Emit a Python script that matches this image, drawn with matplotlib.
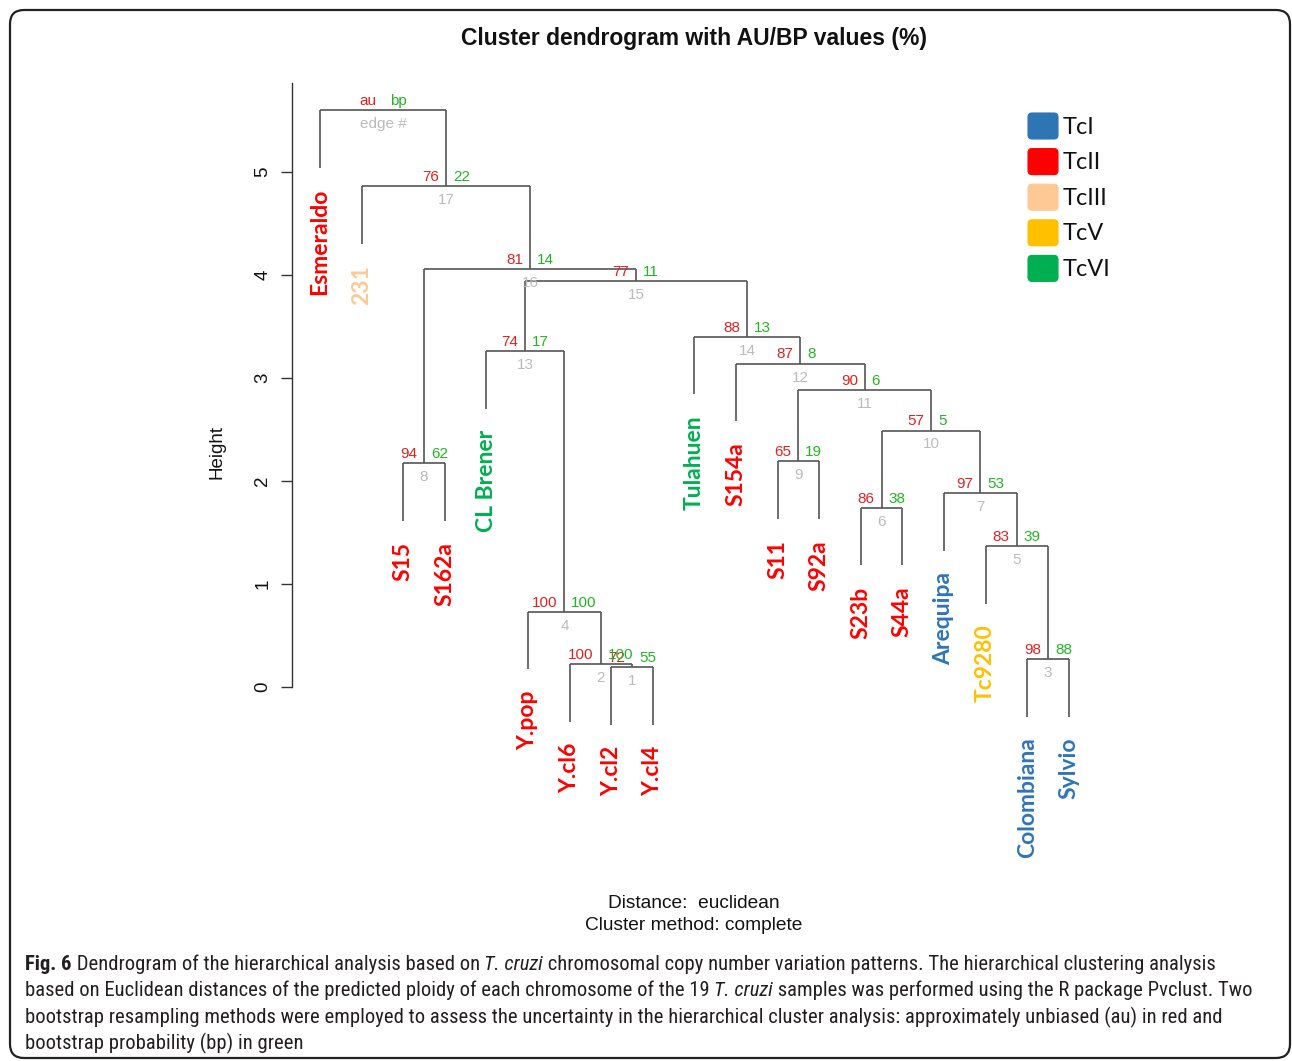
import matplotlib
matplotlib.use("Agg")
import matplotlib.pyplot as plt
from matplotlib.patches import FancyBboxPatch
from matplotlib import font_manager as fm

# ---------------- data ----------------
labels = ["Esmeraldo", "231", "S15", "S162a", "CL Brener", "Y.pop", "Y.cl6", "Y.cl2",
          "Y.cl4", "Tulahuen", "S154a", "S11", "S92a", "S23b", "S44a", "Arequipa",
          "Tc9280", "Colombiana", "Sylvio"]
label_groups = ["TcII", "TcIII", "TcII", "TcII", "TcVI", "TcII", "TcII", "TcII", "TcII",
                "TcVI", "TcII", "TcII", "TcII", "TcII", "TcII", "TcI", "TcV", "TcI", "TcI"]
# R-style merge matrix: negative = leaf number, positive = earlier merge (edge #)
merge_left = [-8, -7, -18, -6, -17, -14, -16, -3, -12, 6, 9, -11, -5, -10, 13, 8, -2, -1]
merge_right = [-9, 1, -19, 2, 3, -15, 5, -4, -13, 7, 10, 11, 4, 12, 14, 15, 16, 17]
heights = [0.19, 0.22, 0.27, 0.73, 1.37, 1.74, 1.88, 2.17, 2.19, 2.49, 2.88, 3.14,
           3.26, 3.40, 3.94, 4.06, 4.86, 5.60]
au = [72, 100, 98, 100, 83, 86, 97, 94, 65, 57, 90, 87, 74, 88, 77, 81, 76, None]
bp = [55, 100, 88, 100, 39, 38, 53, 62, 19, 5, 6, 8, 17, 13, 11, 14, 22, None]
groups = ["TcI", "TcII", "TcIII", "TcV", "TcVI"]
group_colors = ["#2E75B6", "#FF0000", "#FFC996", "#FFC000", "#00B050"]
yticks = [0, 1, 2, 3, 4, 5]

title = "Cluster dendrogram with AU/BP values (%)"
xlab1 = "Distance:  euclidean"
xlab2 = "Cluster method: complete"
caption = [
    [("Fig. 6", "bold"), (" Dendrogram of the hierarchical analysis based on ", "normal"),
     ("T. cruzi", "italic"), (" chromosomal copy number variation patterns. The hierarchical clustering analysis", "normal")],
    [("based on Euclidean distances of the predicted ploidy of each chromosome of the 19 ", "normal"),
     ("T. cruzi", "italic"), (" samples was performed using the R package Pvclust. Two", "normal")],
    [("bootstrap resampling methods were employed to assess the uncertainty in the hierarchical cluster analysis: approximately unbiased (au) in red and", "normal")],
    [("bootstrap probability (bp) in green", "normal")],
]

# ---------------- styles ----------------
AU_COL = "#DD2222"
BP_COL = "#22B522"
EDGE_COL = "#BBBBBB"
LINE_COL = "#555555"
RFONT = "Liberation Sans"
LEAF_FONT = "Lato"

W, H = 1292, 1061
fig = plt.figure(figsize=(W / 100, H / 100), dpi=100)
fig.patch.set_facecolor("white")

# main axes placed in pixel frame
L_px, R_px, B_px, T_px = 292, 1110, 700, 80
ax = fig.add_axes([L_px / W, 1 - B_px / H, (R_px - L_px) / W, (B_px - T_px) / H])
ax.set_facecolor("none")
px_per_x = 41.6
px_per_y = 103.0
ax.set_xlim(1 + (L_px - 320) / px_per_x, 1 + (R_px - 320) / px_per_x)
ax.set_ylim(-(B_px - 687) / px_per_y, (687 - T_px) / px_per_y)

# ---- build dendrogram geometry ----
n = len(labels)
leaf_x = {i + 1: float(i + 1) for i in range(n)}
node_x = {}
hang = 0.1 * max(heights)


def child_xy(c):
    if c < 0:
        return leaf_x[-c], None
    return node_x[c], heights[c - 1]


for k in range(len(heights)):
    h = heights[k]
    xs = []
    for c in (merge_left[k], merge_right[k]):
        cx, ch = child_xy(c)
        bottom = (h - hang) if ch is None else ch
        ax.plot([cx, cx], [bottom, h], color=LINE_COL, lw=1.2, solid_capstyle="butt",
                clip_on=False)
        xs.append(cx)
        if c < 0:
            idx = -c - 1
            col = group_colors[groups.index(label_groups[idx])]
            ax.annotate(labels[idx], xy=(cx, h - hang), xytext=(0, -15),
                        textcoords="offset points", rotation=90, ha="center", va="top",
                        color=col, fontsize=16.5, fontweight="bold", family=LEAF_FONT,
                        annotation_clip=False)
    ax.plot(xs, [h, h], color=LINE_COL, lw=1.2, solid_capstyle="butt", clip_on=False)
    node_x[k + 1] = sum(xs) / 2.0
    mx = node_x[k + 1]
    if au[k] is not None:
        ax.annotate(str(au[k]), xy=(mx, h), xytext=(-5, 1.5), textcoords="offset points",
                    ha="right", va="bottom", color=AU_COL, fontsize=11, family=RFONT)
        ax.annotate(str(bp[k]), xy=(mx, h), xytext=(5, 1.5), textcoords="offset points",
                    ha="left", va="bottom", color=BP_COL, fontsize=11, family=RFONT)
        ax.annotate(str(k + 1), xy=(mx, h), xytext=(0, -5), textcoords="offset points",
                    ha="center", va="top", color=EDGE_COL, fontsize=11, family=RFONT)
    else:
        ax.annotate("au", xy=(mx, h), xytext=(-5, 1.5), textcoords="offset points",
                    ha="right", va="bottom", color=AU_COL, fontsize=11, family=RFONT)
        ax.annotate("bp", xy=(mx, h), xytext=(5, 1.5), textcoords="offset points",
                    ha="left", va="bottom", color=BP_COL, fontsize=11, family=RFONT)
        ax.annotate("edge #", xy=(mx, h), xytext=(0, -5), textcoords="offset points",
                    ha="center", va="top", color=EDGE_COL, fontsize=11, family=RFONT)

# axes styling
for s in ["top", "right", "bottom"]:
    ax.spines[s].set_visible(False)
ax.spines["left"].set_bounds(0, 5.86)
ax.spines["left"].set_color("#333333")
ax.spines["left"].set_linewidth(1.0)
ax.set_xticks([])
ax.set_yticks(yticks)
ax.set_yticklabels([str(t) for t in yticks], rotation=90, va="center",
                   fontsize=13.5, family=RFONT, color="#111111")
ax.tick_params(axis="y", length=8, width=1.0, color="#333333", pad=7)

# ---------------- overlay (pixel coordinates) ----------------
ov = fig.add_axes([0, 0, 1, 1], zorder=-1)
ov.set_xlim(0, W)
ov.set_ylim(H, 0)
ov.axis("off")

frame = FancyBboxPatch((10, 10), 1280, 1048, boxstyle="round,pad=0,rounding_size=14",
                       fill=False, ec="#222222", lw=1.6)
ov.add_patch(frame)

ov.text(694, 38, title, ha="center", va="center", fontsize=16.5, fontweight="bold",
        family=RFONT, color="#111111")
ov.text(217, 452, "Height", ha="center", va="center", rotation=90, fontsize=13.5,
        family=RFONT, color="#111111")
ov.text(694, 903, xlab1, ha="center", va="center", fontsize=13.8, family=RFONT,
        color="#111111")
ov.text(694, 926, xlab2, ha="center", va="center", fontsize=13.8, family=RFONT,
        color="#111111")

# legend
leg_y0, leg_dy = 126, 35.6
for i, (g, c) in enumerate(zip(groups, group_colors)):
    yc = leg_y0 + i * leg_dy
    ov.add_patch(FancyBboxPatch((1028, yc - 13), 30, 26,
                                boxstyle="round,pad=0,rounding_size=4", fc=c, ec=c, lw=0.8))
    ov.text(1063, yc + 1, g, ha="left", va="center", fontsize=17, family=LEAF_FONT,
            color="#111111")

# caption with mixed styles
avail = {f.name for f in fm.fontManager.ttflist}
cap_font = None
cap_stretch = "normal"
for cand in ["Liberation Sans Narrow", "Roboto Condensed", "Open Sans Condensed"]:
    if cand in avail:
        cap_font = cand
        break
if cap_font is None:
    cap_font = "DejaVu Sans"
    cap_stretch = "condensed"

renderer = fig.canvas.get_renderer()


def text_width(s, size, style):
    kw = dict(fontsize=size, family=cap_font, fontstretch=cap_stretch)
    if style == "bold":
        kw["fontweight"] = "bold"
    if style == "italic":
        kw["fontstyle"] = "italic"
    t1 = ov.text(0, 0, "|" + s + "|", **kw)
    t2 = ov.text(0, 0, "||", **kw)
    w = t1.get_window_extent(renderer).width - t2.get_window_extent(renderer).width
    t1.remove()
    t2.remove()
    return w


base = 10.0
w_max = max(sum(text_width(s, base, st) for s, st in line) for line in caption)
cap_size = base * (1242 - 25) / w_max
cap_size = min(cap_size, 16)

y = 964
for line in caption:
    x = 25
    for s, st in line:
        kw = dict(fontsize=cap_size, family=cap_font, fontstretch=cap_stretch,
                  color="#231F20", ha="left", va="center")
        if st == "bold":
            kw["fontweight"] = "bold"
        if st == "italic":
            kw["fontstyle"] = "italic"
        ov.text(x, y, s, **kw)
        x += text_width(s, cap_size, st)
    y += 26.6

fig.savefig("out.png", dpi=100, facecolor="white")
